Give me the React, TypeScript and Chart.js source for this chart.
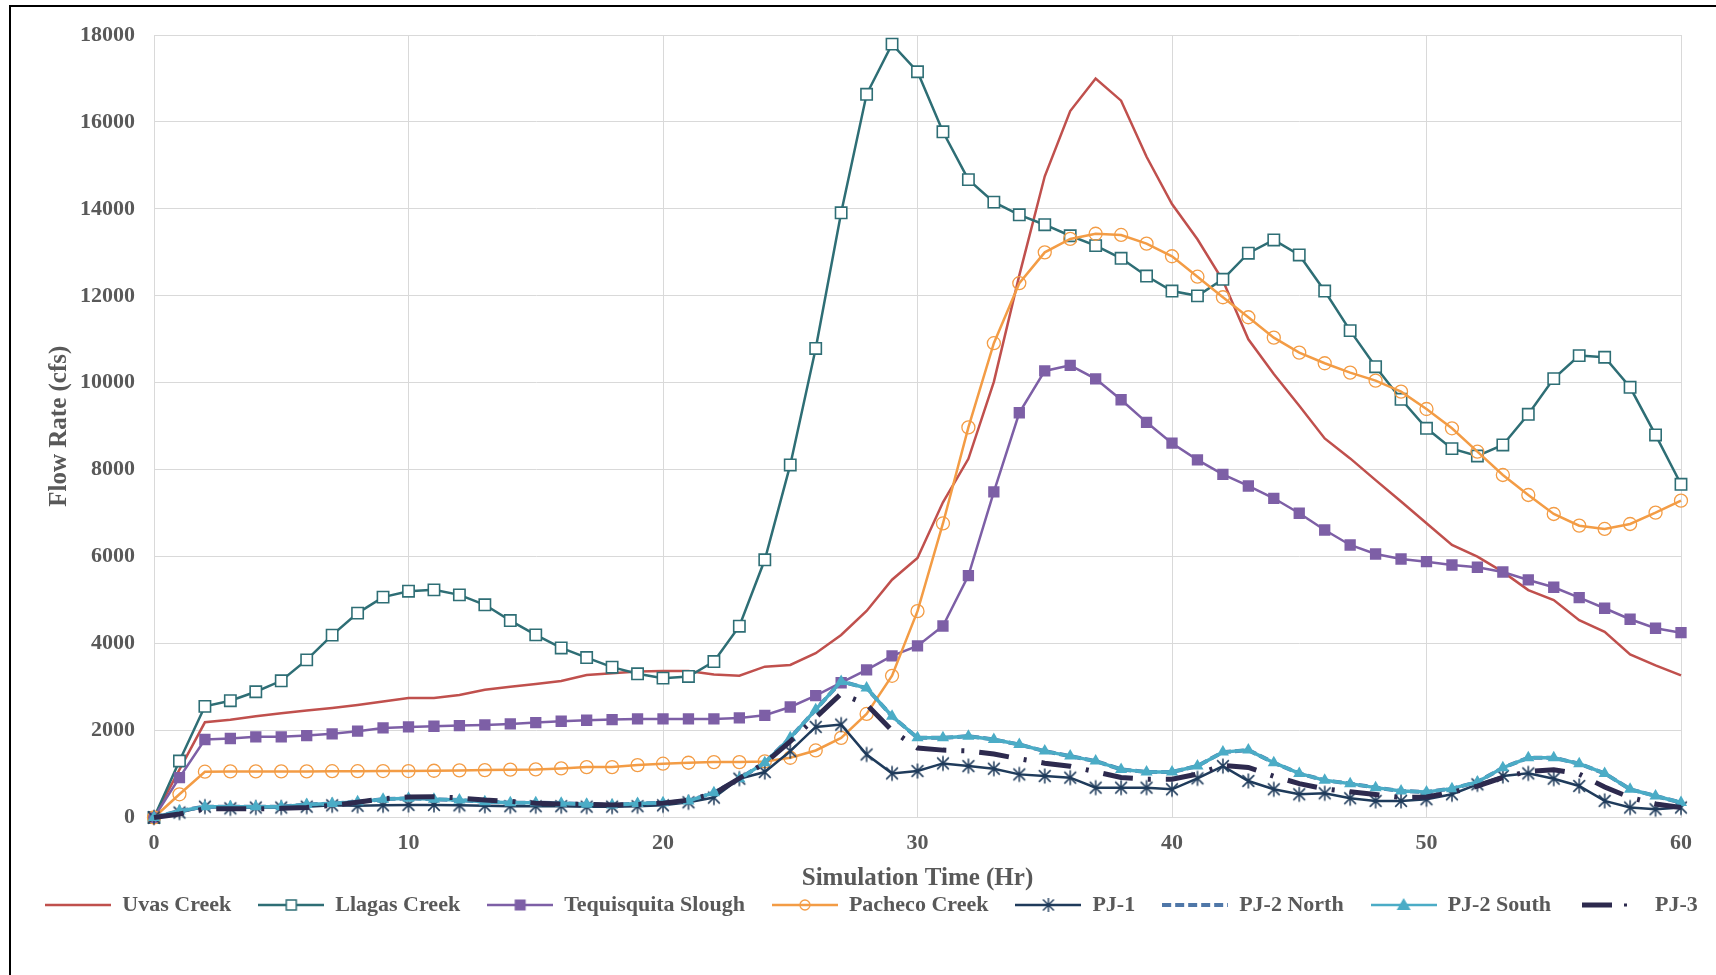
import React, { useEffect, useRef } from "react";
import { Chart, registerables } from "chart.js";

Chart.register(...registerables);

// ---------- data ----------
const hours = [
  0, 1, 2, 3, 4, 5, 6, 7, 8, 9, 10, 11, 12, 13, 14, 15, 16, 17, 18, 19, 20,
  21, 22, 23, 24, 25, 26, 27, 28, 29, 30, 31, 32, 33, 34, 35, 36, 37, 38, 39, 40,
  41, 42, 43, 44, 45, 46, 47, 48, 49, 50, 51, 52, 53, 54, 55, 56, 57, 58, 59, 60,
];

const uvasCreek = [
  0, 1100, 2190, 2250, 2330, 2400, 2460, 2520, 2590, 2670, 2750,
  2750, 2820, 2940, 3010, 3070, 3140, 3280, 3320, 3360, 3370,
  3370, 3290, 3260, 3470, 3510, 3780, 4200, 4750, 5470, 5970,
  7250, 8250, 10020, 12470, 14750, 16250, 17000, 16490, 15200, 14110,
  13300, 12350, 11000, 10200, 9470, 8720, 8260, 7760, 7270, 6770,
  6270, 6000, 5650, 5230, 5000, 4540, 4270, 3750, 3500, 3270,
];

const llagasCreek = [
  0, 1300, 2557, 2687, 2893, 3145, 3626, 4195, 4702, 5069, 5206,
  5237, 5122, 4893, 4530, 4200, 3900, 3679, 3458, 3305, 3206,
  3244, 3588, 4400, 5928, 8110, 10790, 13910, 16636, 17790, 17155,
  15773, 14673, 14155, 13864, 13636, 13382, 13155, 12864, 12455, 12110,
  12000, 12380, 12980, 13285, 12940, 12110, 11200, 10370, 9620, 8953,
  8485, 8316, 8570, 9275, 10095, 10625, 10587, 9896, 8800, 7665,
];

const tequisquitaSlough = [
  0, 916, 1794, 1817, 1855, 1855, 1885, 1924, 1985, 2061, 2084,
  2099, 2115, 2130, 2153, 2183, 2214, 2237, 2252, 2267, 2267,
  2267, 2267, 2290, 2351, 2542, 2802, 3100, 3397, 3718, 3947,
  4405, 5564, 7492, 9310, 10273, 10400, 10090, 9610, 9090, 8610,
  8228, 7895, 7626, 7343, 6998, 6614, 6269, 6062, 5947, 5885,
  5809, 5756, 5648, 5464, 5296, 5057, 4813, 4560, 4353, 4252,
];

const pachecoCreek = [
  0, 534, 1053, 1060, 1060, 1060, 1060, 1065, 1065, 1069, 1069,
  1075, 1084, 1090, 1100, 1107, 1130, 1160, 1160, 1206, 1237,
  1260, 1275, 1275, 1290, 1374, 1542, 1832, 2382, 3260, 4747,
  6764, 8973, 10910, 12291, 13000, 13309, 13428, 13400, 13200, 12910,
  12440, 11967, 11507, 11038, 10693, 10449, 10233, 10049, 9796, 9397,
  8953, 8415, 7879, 7419, 6982, 6713, 6637, 6752, 7012, 7288,
];

const pj1 = [
  0, 115, 250, 210, 230, 230, 250, 280, 270, 280, 290,
  290, 280, 270, 260, 260, 260, 250, 250, 260, 280,
  350, 458, 893, 1046, 1527, 2084, 2137, 1450, 1015, 1069,
  1244, 1183, 1122, 992, 954, 916, 687, 687, 687, 649,
  900, 1183, 840, 649, 534, 557, 443, 382, 382, 420,
  534, 763, 954, 1015, 893, 725, 382, 229, 191, 229,
];

const pj2North = [
  0, 150, 250, 250, 250, 250, 300, 320, 360, 420, 440,
  420, 400, 360, 340, 340, 330, 305, 290, 320, 340,
  380, 570, 893, 1260, 1832, 2481, 3130, 2977, 2328, 1832,
  1832, 1870, 1794, 1679, 1527, 1412, 1298, 1107, 1046, 1046,
  1183, 1504, 1550, 1260, 1015, 855, 779, 687, 611, 588,
  664, 817, 1145, 1374, 1374, 1237, 1015, 649, 496, 344,
];

const pj2South = [
  0, 150, 250, 250, 250, 250, 300, 320, 360, 420, 440,
  420, 400, 360, 340, 340, 330, 305, 290, 320, 340,
  380, 570, 893, 1260, 1832, 2481, 3130, 2977, 2328, 1832,
  1832, 1870, 1794, 1679, 1527, 1412, 1298, 1107, 1046, 1046,
  1183, 1504, 1550, 1260, 1015, 855, 779, 687, 611, 588,
  664, 817, 1145, 1374, 1374, 1237, 1015, 649, 496, 344,
];

const pj3 = [
  0, 80, 200, 200, 200, 210, 230, 280, 350, 430, 470,
  480, 450, 400, 370, 330, 310, 300, 290, 300, 330,
  400, 550, 900, 1250, 1750, 2300, 2850, 2600, 2000, 1600,
  1550, 1530, 1460, 1350, 1250, 1180, 1050, 920, 880, 880,
  1000, 1200, 1150, 950, 780, 660, 590, 530, 460, 470,
  580, 720, 920, 1060, 1100, 1000, 700, 460, 310, 230,
];

const seriesLabels = [
  "Uvas Creek",
  "Llagas Creek",
  "Tequisquita Slough",
  "Pacheco Creek",
  "PJ-1",
  "PJ-2 North",
  "PJ-2 South",
  "PJ-3",
];

const xTicks = [0, 10, 20, 30, 40, 50, 60];
const yTicks = [0, 2000, 4000, 6000, 8000, 10000, 12000, 14000, 16000, 18000];

// ---------- styles ----------
const FONT = "'Liberation Serif', 'Times New Roman', serif";
const TEXT = "#595959";
const GRID = "#d9d9d9";

const C_UVAS = "#C0504D";
const C_LLAGAS = "#2E6E75";
const C_TEQ = "#7D5FA6";
const C_PACH = "#F39C45";
const C_PJ1 = "#1F3B5B";
const C_PJ2N = "#4F77A8";
const C_PJ2S = "#4BACC6";
const C_PJ3 = "#2D2A4E";

function makeCanvas(w: number, h: number) {
  const c = document.createElement("canvas");
  c.width = w;
  c.height = h;
  return c;
}

function drawAsterisk(g: CanvasRenderingContext2D, cx: number, cy: number, r: number, color: string, lw: number) {
  g.save();
  g.strokeStyle = color;
  g.lineWidth = lw;
  g.setLineDash([]);
  const d = r * 0.78;
  g.beginPath();
  g.moveTo(cx, cy - r);
  g.lineTo(cx, cy + r);
  g.moveTo(cx - d, cy - d);
  g.lineTo(cx + d, cy + d);
  g.moveTo(cx + d, cy - d);
  g.lineTo(cx - d, cy + d);
  g.stroke();
  g.restore();
}

function asteriskPoint(color: string) {
  const s = 18;
  const c = makeCanvas(s, s);
  const g = c.getContext("2d")!;
  drawAsterisk(g, s / 2, s / 2, 7.5, color, 1.5);
  return c;
}

type Marker = "none" | "rectHollow" | "rectFilled" | "circle" | "asterisk" | "triangle";

function legendIcon(color: string, lw: number, marker: Marker, dash?: number[]) {
  const w = 66;
  const h = 24;
  const c = makeCanvas(w, h);
  const g = c.getContext("2d")!;
  const cy = h / 2;
  const cx = w / 2;
  g.strokeStyle = color;
  g.lineWidth = lw;
  g.setLineDash(dash || []);
  g.beginPath();
  g.moveTo(0, cy);
  g.lineTo(w, cy);
  g.stroke();
  g.setLineDash([]);
  if (marker === "rectHollow") {
    g.fillStyle = "#ffffff";
    g.fillRect(cx - 5, cy - 5, 10, 10);
    g.lineWidth = 1.5;
    g.strokeRect(cx - 5, cy - 5, 10, 10);
  } else if (marker === "rectFilled") {
    g.fillStyle = color;
    g.fillRect(cx - 5.5, cy - 5.5, 11, 11);
  } else if (marker === "circle") {
    g.lineWidth = 1.3;
    g.beginPath();
    g.arc(cx, cy, 5, 0, Math.PI * 2);
    g.stroke();
  } else if (marker === "asterisk") {
    drawAsterisk(g, cx, cy, 7, color, 1.4);
  } else if (marker === "triangle") {
    g.fillStyle = color;
    g.beginPath();
    g.moveTo(cx, cy - 7);
    g.lineTo(cx + 7, cy + 5);
    g.lineTo(cx - 7, cy + 5);
    g.closePath();
    g.fill();
  }
  return c;
}

function pj3LegendIcon() {
  const w = 66;
  const h = 24;
  const c = makeCanvas(w, h);
  const g = c.getContext("2d")!;
  const cy = h / 2;
  g.fillStyle = C_PJ3;
  g.fillRect(4, cy - 2.5, 30, 5);
  g.fillRect(46, cy - 1.5, 3, 3);
  return c;
}

const legendShift = {
  id: "legendShift",
  afterLayout(chart: any) {
    const lg = chart.legend;
    if (!lg) return;
    const dx = -28.5;
    const dy = -39;
    lg.left += dx;
    lg.right += dx;
    lg.top += dy;
    lg.bottom += dy;
  },
};

export default function App() {
  const ref = useRef<HTMLCanvasElement | null>(null);

  useEffect(() => {
    if (!ref.current) return;
    const mk = (vals: number[]) => hours.map((h, i) => ({ x: h, y: vals[i] }));
    const pj1Pt = asteriskPoint(C_PJ1);

    const icons = [
      legendIcon(C_UVAS, 2.5, "none"),
      legendIcon(C_LLAGAS, 2.5, "rectHollow"),
      legendIcon(C_TEQ, 2.5, "rectFilled"),
      legendIcon(C_PACH, 2.5, "circle"),
      legendIcon(C_PJ1, 2.5, "asterisk"),
      legendIcon(C_PJ2N, 4, "none", [9, 4]),
      legendIcon(C_PJ2S, 2.5, "triangle"),
      pj3LegendIcon(),
    ];

    const tickFont = { family: FONT, size: 22, weight: "bold" as const };
    const titleFont = { family: FONT, size: 25, weight: "bold" as const };

    const chart = new Chart(ref.current, {
      type: "line",
      data: {
        datasets: [
          {
            label: seriesLabels[0],
            data: mk(uvasCreek),
            borderColor: C_UVAS,
            backgroundColor: C_UVAS,
            borderWidth: 2.5,
            pointRadius: 0,
            order: 7,
          },
          {
            label: seriesLabels[1],
            data: mk(llagasCreek),
            borderColor: C_LLAGAS,
            backgroundColor: "#ffffff",
            borderWidth: 2.5,
            pointStyle: "rect",
            pointRadius: 8,
            pointBorderWidth: 1.6,
            pointBackgroundColor: "#ffffff",
            pointBorderColor: C_LLAGAS,
            order: 6,
          },
          {
            label: seriesLabels[2],
            data: mk(tequisquitaSlough),
            borderColor: C_TEQ,
            backgroundColor: C_TEQ,
            borderWidth: 2.5,
            pointStyle: "rect",
            pointRadius: 8,
            pointBorderWidth: 0,
            pointBackgroundColor: C_TEQ,
            pointBorderColor: C_TEQ,
            order: 5,
          },
          {
            label: seriesLabels[3],
            data: mk(pachecoCreek),
            borderColor: C_PACH,
            backgroundColor: "rgba(0,0,0,0)",
            borderWidth: 2.5,
            pointStyle: "circle",
            pointRadius: 6.5,
            pointBorderWidth: 1.3,
            pointBackgroundColor: "rgba(255,255,255,0)",
            pointBorderColor: C_PACH,
            order: 4,
          },
          {
            label: seriesLabels[4],
            data: mk(pj1),
            borderColor: C_PJ1,
            backgroundColor: C_PJ1,
            borderWidth: 2.5,
            pointStyle: pj1Pt as any,
            pointRadius: 7,
            order: 3,
          },
          {
            label: seriesLabels[5],
            data: mk(pj2North),
            borderColor: C_PJ2N,
            backgroundColor: C_PJ2N,
            borderWidth: 4,
            borderDash: [9, 4],
            pointRadius: 0,
            order: 2,
          },
          {
            label: seriesLabels[6],
            data: mk(pj2South),
            borderColor: C_PJ2S,
            backgroundColor: C_PJ2S,
            borderWidth: 3.5,
            pointStyle: "triangle",
            pointRadius: 7,
            pointBorderWidth: 0,
            pointBackgroundColor: C_PJ2S,
            pointBorderColor: C_PJ2S,
            order: 1,
          },
          {
            label: seriesLabels[7],
            data: mk(pj3),
            borderColor: C_PJ3,
            backgroundColor: C_PJ3,
            borderWidth: 5,
            borderDash: [30, 15, 3, 15],
            borderCapStyle: "butt",
            pointRadius: 0,
            order: 0,
          },
        ].map((d) => ({ ...d, tension: 0, clip: 16, fill: false })) as any,
      },
      options: {
        responsive: false,
        animation: false,
        devicePixelRatio: 1,
        events: [],
        layout: { padding: { top: 35, left: 0, right: 0, bottom: 10 } },
        plugins: {
          tooltip: { enabled: false },
          title: { display: false },
          legend: {
            display: true,
            position: "bottom",
            labels: {
              usePointStyle: true,
              pointStyleWidth: 66,
              padding: 27,
              color: TEXT,
              font: tickFont,
              sort: (a: any, b: any) => a.datasetIndex - b.datasetIndex,
              generateLabels: (ch: any) => {
                const items = (Chart.defaults.plugins.legend.labels as any).generateLabels(ch);
                items.forEach((it: any) => {
                  it.pointStyle = icons[it.datasetIndex];
                });
                return items;
              },
            },
          },
        },
        scales: {
          x: {
            type: "linear",
            min: 0,
            max: 60,
            afterBuildTicks: (s: any) => {
              s.ticks = xTicks.map((v) => ({ value: v }));
            },
            ticks: {
              padding: 13,
              color: TEXT,
              font: tickFont,
              maxRotation: 0,
              autoSkip: false,
              callback: (v: any) => String(v),
            },
            grid: { color: GRID, lineWidth: 1, drawTicks: false },
            border: { color: GRID, width: 1 },
            title: {
              display: true,
              text: "Simulation Time (Hr)",
              color: TEXT,
              font: titleFont,
              padding: { top: 0, bottom: 12 },
            },
            afterFit: (s: any) => {
              s.height = 88.5;
            },
          },
          y: {
            type: "linear",
            position: "left",
            min: 0,
            max: 18000,
            afterBuildTicks: (s: any) => {
              s.ticks = yTicks.map((v) => ({ value: v }));
            },
            ticks: {
              padding: 19,
              color: TEXT,
              font: tickFont,
              autoSkip: false,
              callback: (v: any) => String(v),
            },
            grid: { color: GRID, lineWidth: 1, drawTicks: false },
            border: { color: GRID, width: 1 },
            title: {
              display: true,
              text: "Flow Rate (cfs)",
              color: TEXT,
              font: titleFont,
              padding: { top: 45, bottom: 0 },
            },
            afterFit: (s: any) => {
              s.width = 154;
            },
          },
          yR: {
            type: "linear",
            position: "right",
            min: 0,
            max: 1,
            display: true,
            grid: { display: false, drawTicks: false },
            border: { display: false },
            ticks: { display: false },
            afterFit: (s: any) => {
              s.width = 119;
            },
          },
        },
      },
      plugins: [legendShift],
    });

    return () => {
      chart.destroy();
    };
  }, []);

  return (
    <div
      style={{
        position: "absolute",
        left: 0,
        top: 0,
        width: 1716,
        height: 975,
        overflow: "hidden",
        background: "#ffffff",
      }}
    >
      <canvas
        ref={ref}
        width={1800}
        height={975}
        style={{ position: "absolute", left: 0, top: 0, width: 1800, height: 975 }}
      />
      <div
        style={{
          position: "absolute",
          left: 9,
          top: 5,
          width: 1707,
          height: 970,
          boxSizing: "border-box",
          borderLeft: "2px solid #000",
          borderTop: "2px solid #000",
          pointerEvents: "none",
        }}
      />
    </div>
  );
}
